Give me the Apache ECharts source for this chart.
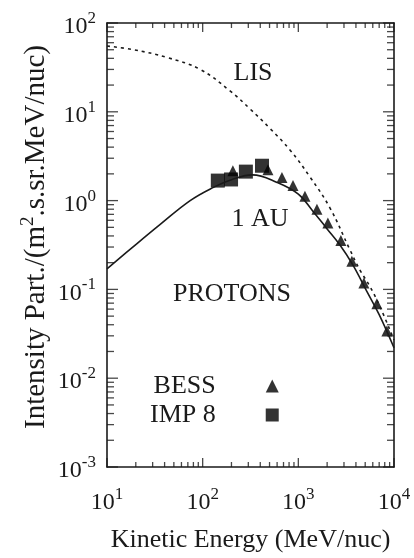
<!DOCTYPE html>
<html>
<head>
<meta charset="utf-8">
<script src="https://cdn.jsdelivr.net/npm/echarts@6/dist/echarts.min.js"></script>
<style>
html, body { margin: 0; padding: 0; background: #fff; }
#main { width: 414px; height: 558px; }
</style>
</head>
<body>
<div id="main"></div>
<script>
// LIS (dashed) and 1 AU (solid) model curves, energy in MeV/nuc
var lisEnergy = [10, 18.7, 42.4, 93.8, 193, 312, 505, 817, 1322, 2138, 3459, 4406, 5600, 7130, 10000];
var lisFlux = [55, 50.2, 40.9, 30.1, 17.2, 10.8, 6.5, 3.72, 1.85, 0.83, 0.28, 0.165, 0.108, 0.064, 0.027];

var auEnergy = [10, 20, 36, 74, 128, 200, 330, 600, 1000, 1420, 2000, 2700, 3700, 5200, 7000, 10000];
var auFlux = [0.17, 0.32, 0.54, 1.0, 1.4, 1.72, 1.95, 1.6, 1.18, 0.76, 0.48, 0.32, 0.19, 0.095, 0.052, 0.022];

// measurements
var bessEnergy = [207, 481, 674, 879, 1173, 1565, 2037, 2786, 3630, 4840, 6620, 8430];
var bessFlux = [2.17, 2.23, 1.82, 1.48, 1.12, 0.80, 0.56, 0.355, 0.208, 0.118, 0.069, 0.034];

var impEnergy = [144, 198, 283, 417];
var impFlux = [1.68, 1.73, 2.12, 2.47];

// tick grid
var xDecades = [10, 100, 1000, 10000];
var yDecades = [0.001, 0.01, 0.1, 1, 10, 100];
var mantissas = [2, 3, 4, 5, 6, 7, 8, 9];

var xMin = 10, xMax = 10000, yMin = 0.001, yMax = 100;

function zip(xs, ys) {
    return xs.map(function (x, i) { return [x, ys[i]]; });
}

// decades get long ticks, 2..9 short ones
function tickList(decades, majorLen, minorLen) {
    var out = [];
    decades.forEach(function (d, i) {
        out.push([d, majorLen]);
        if (i < decades.length - 1) {
            mantissas.forEach(function (m) { out.push([d * m, minorLen]); });
        }
    });
    return out;
}

// inward tick marks on all four sides, as thin rect symbols sitting on the frame
function frameTicks() {
    var w = 1.3, out = [];
    tickList(xDecades, 9, 5).forEach(function (t) {
        out.push({ value: [t[0], yMin], symbolSize: [w, t[1]], symbolOffset: [0, -t[1] / 2] });
        out.push({ value: [t[0], yMax], symbolSize: [w, t[1]], symbolOffset: [0, t[1] / 2] });
    });
    tickList(yDecades, 11, 7).forEach(function (t) {
        out.push({ value: [xMin, t[0]], symbolSize: [t[1], w], symbolOffset: [t[1] / 2, 0] });
        out.push({ value: [xMax, t[0]], symbolSize: [t[1], w], symbolOffset: [-t[1] / 2, 0] });
    });
    return out;
}

var serif = 'Liberation Serif';
var ink = '#1a1a1a';

function powLabel(v) {
    var e = Math.round(Math.log(v) / Math.LN10);
    return '{b|10}{s|' + e + '}';
}

function labelRich() {
    return {
        b: { fontFamily: serif, fontSize: 24, lineHeight: 26, padding: [8, 0, 0, 0], color: ink },
        s: { fontFamily: serif, fontSize: 17, lineHeight: 17, color: ink, verticalAlign: 'top' }
    };
}

function logAxis(opts) {
    var ax = {
        type: 'log',
        axisLine: { show: true, onZero: false, lineStyle: { color: ink, width: 1.6 } },
        axisTick: { show: false },
        minorTick: { show: false },
        splitLine: { show: false },
        minorSplitLine: { show: false },
        axisLabel: { show: false }
    };
    for (var k in opts) ax[k] = opts[k];
    return ax;
}

var chart = echarts.init(document.getElementById('main'));

var option = {
    animation: false,
    grid: { left: 107, right: 20, top: 23, bottom: 84 },
    xAxis: [
        logAxis({
            min: xMin, max: xMax, position: 'bottom',
            axisLabel: { show: true, formatter: powLabel, rich: labelRich(), margin: 19 },
            name: 'Kinetic Energy (MeV/nuc)',
            nameLocation: 'middle',
            nameGap: 60,
            nameTextStyle: { fontFamily: serif, fontSize: 26, color: ink }
        }),
        logAxis({ min: xMin, max: xMax, position: 'top' })
    ],
    yAxis: [
        logAxis({
            min: yMin, max: yMax, position: 'left',
            axisLabel: { show: true, formatter: powLabel, rich: labelRich(), margin: 11 }
        }),
        logAxis({ min: yMin, max: yMax, position: 'right' })
    ],
    legend: {
        orient: 'vertical',
        align: 'right',
        left: 145,
        top: 368,
        itemGap: 3,
        itemWidth: 13,
        itemHeight: 13,
        selectedMode: false,
        data: ['BESS', 'IMP 8'],
        textStyle: { fontFamily: serif, fontSize: 26, color: ink, padding: [0, 45, 0, 0] }
    },
    graphic: [
        {
            type: 'text', x: 33, y: 237, rotation: Math.PI / 2,
            style: {
                text: '{n|Intensity Part./(m}{s|2}{n|.s.sr.MeV/nuc)}',
                align: 'center', verticalAlign: 'middle',
                rich: {
                    n: { fontFamily: serif, fontSize: 29, lineHeight: 29, padding: [6, 0, 0, 0], fill: ink },
                    s: { fontFamily: serif, fontSize: 19, lineHeight: 19, fill: ink, verticalAlign: 'top' }
                }
            }
        },
        { type: 'text', x: 253, y: 73, style: { text: 'LIS', fontFamily: serif, fontSize: 26, fill: ink, align: 'center', verticalAlign: 'middle' } },
        { type: 'text', x: 260, y: 219, style: { text: '1 AU', fontFamily: serif, fontSize: 26, fill: ink, align: 'center', verticalAlign: 'middle' } },
        { type: 'text', x: 232, y: 294, style: { text: 'PROTONS', fontFamily: serif, fontSize: 26, fill: ink, align: 'center', verticalAlign: 'middle' } }
    ],
    series: [
        {
            name: 'frame ticks',
            type: 'scatter',
            data: frameTicks(),
            symbol: 'rect',
            itemStyle: { color: ink },
            silent: true,
            clip: false,
            z: 5
        },
        {
            name: 'LIS',
            type: 'line',
            data: zip(lisEnergy, lisFlux),
            showSymbol: false,
            smooth: 0.4,
            lineStyle: { color: ink, width: 1.6, type: [3, 4] }
        },
        {
            name: '1 AU',
            type: 'line',
            data: zip(auEnergy, auFlux),
            showSymbol: false,
            smooth: 0.4,
            lineStyle: { color: ink, width: 1.6 }
        },
        {
            name: 'BESS',
            type: 'scatter',
            data: zip(bessEnergy, bessFlux),
            symbol: 'triangle',
            symbolSize: 11,
            itemStyle: { color: '#000' }
        },
        {
            name: 'IMP 8',
            type: 'scatter',
            data: zip(impEnergy, impFlux),
            symbol: 'rect',
            symbolSize: 14,
            itemStyle: { color: '#000' }
        }
    ]
};

chart.setOption(option);
</script>
</body>
</html>
